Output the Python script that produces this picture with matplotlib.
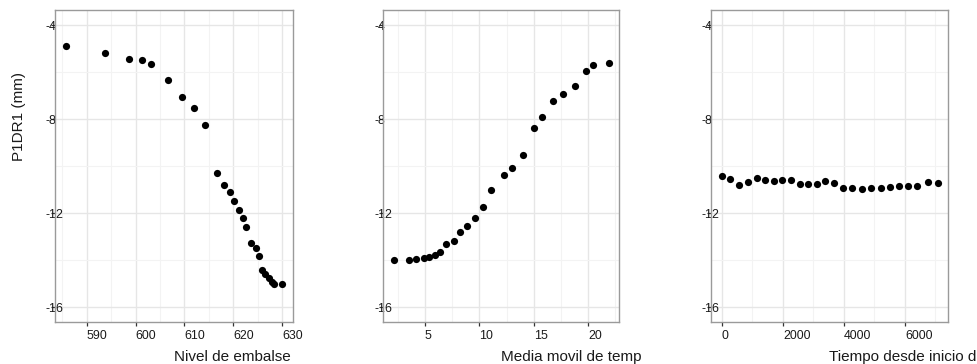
import matplotlib
matplotlib.use("Agg")
import matplotlib.pyplot as plt
from matplotlib.ticker import MultipleLocator, FixedLocator

plt.rcParams['font.family'] = ['Liberation Sans', 'DejaVu Sans']
plt.rcParams['axes.unicode_minus'] = False

# Panel 1: Nivel de embalse
nivel_x = [585.8, 593.7, 598.7, 601.3, 603.2, 606.7, 609.6, 612.0, 614.2, 616.6,
           618.2, 619.3, 620.1, 621.1, 622.0, 622.6, 623.6, 624.6, 625.2, 625.9,
           626.5, 627.3, 627.9, 628.4, 629.9]
nivel_y = [-4.89, -5.20, -5.43, -5.50, -5.64, -6.32, -7.08, -7.52, -8.25, -10.28,
           -10.79, -11.09, -11.48, -11.86, -12.20, -12.58, -13.29, -13.47, -13.83, -14.40,
           -14.57, -14.74, -14.94, -15.01, -15.01]

# Panel 2: Media movil de temp
temp_x = [2.15, 3.50, 4.14, 4.88, 5.40, 5.89, 6.38, 6.93, 7.66, 8.21,
          8.83, 9.56, 10.30, 11.03, 12.29, 12.96, 13.97, 15.01, 15.74, 16.75,
          17.67, 18.77, 19.78, 20.40, 21.90]
temp_y = [-14.00, -14.00, -13.97, -13.90, -13.85, -13.80, -13.66, -13.30, -13.19, -12.80,
          -12.54, -12.20, -11.72, -11.03, -10.38, -10.08, -9.51, -8.40, -7.92, -7.22,
          -6.95, -6.58, -5.95, -5.69, -5.62]

# Panel 3: Tiempo desde inicio
tiempo_x = [0, 251, 546, 842, 1137, 1410, 1694, 1967, 2262, 2546,
            2809, 3104, 3366, 3672, 3956, 4273, 4590, 4896, 5224, 5519,
            5792, 6087, 6404, 6743, 7071]
tiempo_y = [-10.42, -10.56, -10.80, -10.68, -10.51, -10.61, -10.64, -10.61, -10.61, -10.75,
            -10.78, -10.78, -10.64, -10.73, -10.95, -10.92, -10.96, -10.92, -10.92, -10.89,
            -10.85, -10.85, -10.85, -10.68, -10.72]

y_label = "P1DR1 (mm)"
x_labels = ["Nivel de embalse", "Media movil de temp", "Tiempo desde inicio de medidas"]
y_ticks = [-4, -8, -12, -16]

W, H = 978, 364
fig = plt.figure(figsize=(W / 100, H / 100), dpi=100)

panels = [
    dict(x=nivel_x, y=nivel_y, xlim=(583.5, 632.25), major=[590, 600, 610, 620, 630], minor=5),
    dict(x=temp_x, y=temp_y, xlim=(1.17, 22.85), major=[5, 10, 15, 20], minor=2.5),
    dict(x=tiempo_x, y=tiempo_y, xlim=(-370, 7420), major=[0, 2000, 4000, 6000], minor=1000),
]
edges = [(55, 293), (383.3, 619.3), (710.7, 948.3)]
top, bottom = 10, 322

for i, (p, (l, r)) in enumerate(zip(panels, edges)):
    ax = fig.add_axes([l / W, 1 - bottom / H, (r - l) / W, (bottom - top) / H])
    ax.set_xlim(*p['xlim'])
    ax.set_ylim(-16.63, -3.36)
    ax.xaxis.set_major_locator(FixedLocator(p['major']))
    ax.xaxis.set_minor_locator(MultipleLocator(p['minor']))
    ax.yaxis.set_major_locator(FixedLocator(y_ticks))
    ax.yaxis.set_minor_locator(FixedLocator([-6, -10, -14]))
    ax.grid(which='major', color='#e6e6e6', linewidth=1.0, zorder=0)
    ax.grid(which='minor', color='#f3f3f3', linewidth=0.8, zorder=0)
    ax.set_axisbelow(True)
    for s in ax.spines.values():
        s.set_color('#9a9a9a')
        s.set_linewidth(1.0)
    ax.tick_params(which='minor', length=0)
    ax.tick_params(axis='x', which='major', length=3, width=0.9, color='#333333',
                   labelsize=8.9, labelcolor='#1a1a1a', pad=2.5)
    ax.tick_params(axis='y', which='major', length=3, width=0.9, color='#333333',
                   labelsize=8.9, labelcolor='#1a1a1a', pad=3.5)
    ax.set_xticklabels([str(v) for v in p['major']])
    ax.set_yticklabels([str(v) for v in y_ticks])
    for t in ax.get_xticklabels():
        t.set_ha('left')
    for t in ax.get_yticklabels():
        t.set_ha('left')
    ax.scatter(p['x'], p['y'], s=27, color='black', linewidths=0, zorder=3)
    fig.text(((l + r) / 2) / W, 1 - 360.7 / H, x_labels[i], ha='left', va='baseline',
             fontsize=11, color='#1a1a1a')

fig.text(19 / W, 1 - 161 / H, y_label, rotation=90, ha='center', va='bottom',
         fontsize=11, color='#1a1a1a')

fig.savefig('out.png', dpi=100)
